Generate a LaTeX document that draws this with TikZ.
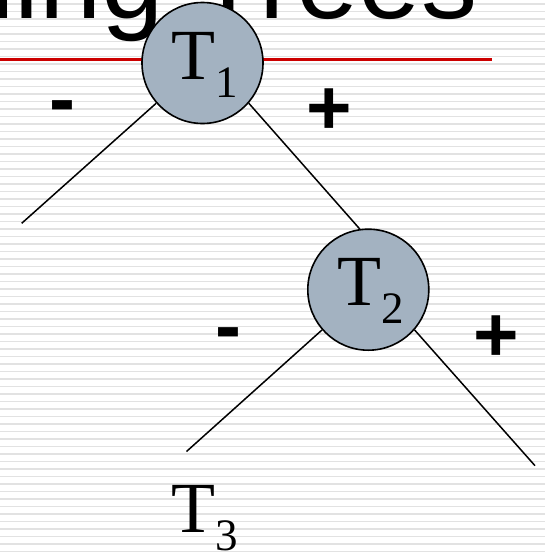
\documentclass[tikz,border=0pt]{standalone}
\usepackage{fontspec}
\setmainfont{Liberation Serif}
\newfontfamily\titlefont{Liberation Sans}
\definecolor{nodefill}{RGB}{163,178,193}
\definecolor{rulered}{RGB}{204,0,0}
\definecolor{stripegray}{RGB}{226,226,226}
% subscript index set below the baseline of the big T
\newcommand\subidx[1]{\raisebox{-18pt}{\fontsize{45}{45}\selectfont #1}}

\begin{document}
\begin{tikzpicture}[x=1pt,y=-1pt,
  treenode/.style={circle, draw=black, line width=1.6pt, fill=nodefill,
    minimum size=121pt, inner sep=0pt},
  branch/.style={line width=1.5pt, draw=black},
  sign/.style={inner sep=0pt, font=\titlefont\bfseries\fontsize{78}{78}\selectfont},
  tlabel/.style={anchor=base west, inner sep=0pt, font=\fontsize{72}{72}\selectfont},
  titletext/.style={anchor=base west, inner sep=0pt, font=\titlefont\fontsize{112}{112}\selectfont}]

  \useasboundingbox (0,0) rectangle (545,554);
  \clip (0,0) rectangle (545,554);

  % striped slide background
  \fill[white] (0,0) rectangle (545,554);
  \foreach \k in {0,...,73}
    \draw[stripegray, line width=1.4pt] (0,{4+7.5*\k}) -- (545,{4+7.5*\k});

  % slide title and rule
  \node[titletext] (title) at (-48,19) {ning Trees};
  \draw[rulered, line width=3pt] (0,59.5) -- (492,59.5);

  % tree nodes
  \node[treenode] (t1) at (202.5,63) {};
  \node[treenode] (t2) at (368.3,289.7) {};

  \node[tlabel] (lab1) at (171.5,79) {T\subidx{1}};
  \node[tlabel] (lab2) at (337,305) {T\subidx{2}};
  \node[tlabel] (lab3) at (171.5,532) {T\subidx{3}};

  % free branch ends
  \coordinate (leafA) at (21.7,223.3);
  \coordinate (leafB) at (186.5,451.5);
  \coordinate (leafC) at (535,465.7);

  % branches
  \draw[branch] (t1.221.6) -- (leafA);
  \draw[branch] (t1.-41.3) -- (t2.98.3);
  \draw[branch] (t2.221.6) -- (leafB);
  \draw[branch] (t2.-41.3) -- (leafC);

  % branch signs (the hyphen box starts at the baseline, so it sits lower)
  \node[sign] (m1) at (62,113) {-};
  \node[sign] (p1) at (329.7,111.7) {+};
  \node[sign] (m2) at (228,339.7) {-};
  \node[sign] (p2) at (495.8,338.7) {+};
\end{tikzpicture}
\end{document}
